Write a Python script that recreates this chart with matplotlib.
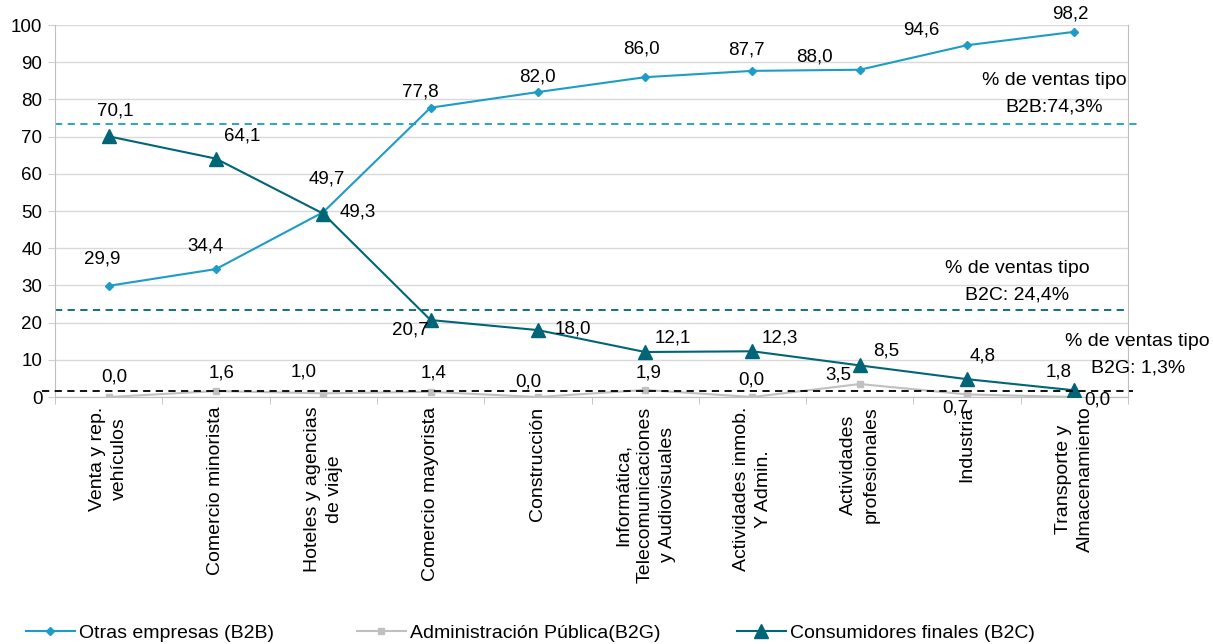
import matplotlib.pyplot as plt
from matplotlib.lines import Line2D

plt.rcParams['font.family'] = ['Liberation Sans', 'DejaVu Sans']

categories = ['Venta y rep.\nvehículos', 'Comercio minorista', 'Hoteles y agencias\nde viaje',
              'Comercio mayorista', 'Construcción', 'Informática,\nTelecomunicaciones\ny Audiovisuales',
              'Actividades inmob.\nY Admin.', 'Actividades\nprofesionales', 'Industria',
              'Transporte y\nAlmacenamiento']
b2b = [29.9, 34.4, 49.7, 77.8, 82.0, 86.0, 87.7, 88.0, 94.6, 98.2]
b2g = [0.0, 1.6, 1.0, 1.4, 0.0, 1.9, 0.0, 3.5, 0.7, 0.0]
b2c = [70.1, 64.1, 49.3, 20.7, 18.0, 12.1, 12.3, 8.5, 4.8, 1.8]
avg_lines = [73.5, 23.3, 1.6]  # B2B, B2C, B2G reference lines as drawn
avg_texts = ['% de ventas tipo\nB2B:74,3%', '% de ventas tipo\nB2C: 24,4%', '% de ventas tipo\nB2G: 1,3%']

# label offsets in pixels (dx, dy), y up
off_b2b = [(-6, 27), (-10, 23), (4, 33), (-10, 16), (0, 15), (-4, 28), (-6, 21), (-45, 13), (-46, 15), (-4, 18)]
off_b2c = [(7, 25), (26, 23), (35, 2), (-20, -10), (35, 1), (28, 14), (27, 13), (26, 14), (16, 23), (-16, 18)]
off_b2g = [(6, 20), (6, 18), (-20, 21), (3, 19), (-10, 15), (3, 17), (-1, 17), (-21, 9), (-12, -14), (23, -3)]

c_b2b = '#1c9cc6'
c_b2c = '#006677'
c_b2g = '#c0c0c0'

fig = plt.figure(figsize=(12.13, 6.44), dpi=100)
ax = fig.add_axes([0.0453, 0.3835, 0.8847, 0.5775])

x = list(range(len(categories)))
ax.plot(x, b2g, color=c_b2g, marker='s', markersize=5, lw=1.5, zorder=3)
ax.plot(x, b2b, color=c_b2b, marker='D', markersize=4.5, lw=1.5, zorder=4)
ax.plot(x, b2c, color=c_b2c, marker='^', markersize=10, lw=1.5, zorder=5)

# average lines
ax.plot([-0.5, 9.59], [avg_lines[0]] * 2, color=c_b2b, ls=(0, (4, 3)), lw=1.3, clip_on=False, zorder=2)
ax.plot([-0.5, 9.5], [avg_lines[1]] * 2, color=c_b2c, ls=(0, (4, 3)), lw=1.3, clip_on=False, zorder=2)
ax.plot([-0.62, 9.55], [avg_lines[2]] * 2, color='black', ls=(0, (4, 3)), lw=1.3, clip_on=False, zorder=6)


def fmt(v):
    return f'{v:.1f}'.replace('.', ',')


for series, offs in ((b2b, off_b2b), (b2c, off_b2c), (b2g, off_b2g)):
    for i, (v, (dx, dy)) in enumerate(zip(series, offs)):
        ax.annotate(fmt(v), (i, v), xytext=(dx * 0.72, dy * 0.72), textcoords='offset points',
                    ha='center', va='center', fontsize=13.5, zorder=7, annotation_clip=False)

for (tx, ty), t in zip([(8.81, 81.5), (8.47, 30.9), (9.59, 11.3)], avg_texts):
    ax.text(tx, ty, t, ha='center', va='center', fontsize=14, linespacing=1.75, clip_on=False)

ax.set_xlim(-0.5, 9.5)
ax.set_ylim(0, 100)
ax.set_yticks(range(0, 101, 10))
ax.set_xticks(x)
ax.set_xticklabels(categories, rotation=90, ha='center', va='top', multialignment='center',
                   fontsize=14, linespacing=1.4)
ax.set_xticks([i - 0.5 for i in range(11)], minor=True)
ax.tick_params(axis='x', which='major', length=0, pad=7)
ax.tick_params(axis='x', which='minor', length=5, color='#bfbfbf')
ax.tick_params(axis='y', length=5, color='#d0d0d0', labelsize=13.5, pad=4)
ax.grid(axis='y', color='#d9d9d9', lw=1)
ax.set_axisbelow(True)
for s in ('left', 'bottom', 'right'):
    ax.spines[s].set_color('#bfbfbf')
ax.spines['top'].set_visible(False)

handles = [
    Line2D([], [], color=c_b2b, marker='D', markersize=4.5, lw=1.5),
    Line2D([], [], color=c_b2g, marker='s', markersize=5, lw=1.5),
    Line2D([], [], color=c_b2c, marker='^', markersize=10, lw=1.5),
]
names = ['Otras empresas (B2B)', 'Administración Pública(B2G)', 'Consumidores finales (B2C)']
for h, n, lx in zip(handles, names, [0.0214, 0.2943, 0.6076]):
    fig.legend([h], [n], loc='center left', bbox_to_anchor=(lx, 0.017), frameon=False,
               fontsize=14, handlelength=2.5, handletextpad=0.25, borderaxespad=0, borderpad=0)

fig.savefig('out.png', dpi=100)
